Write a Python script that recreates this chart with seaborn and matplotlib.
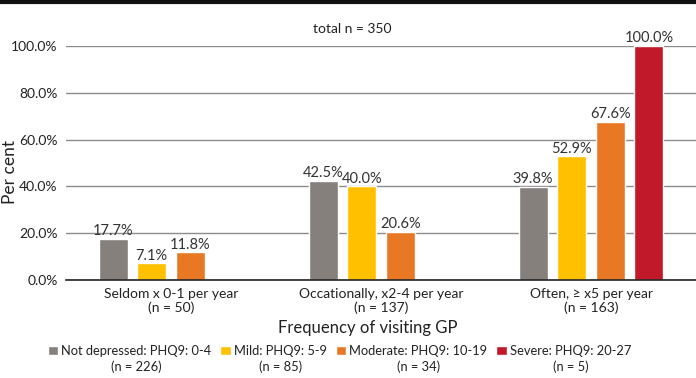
import matplotlib
matplotlib.use("Agg")
import matplotlib.pyplot as plt
import seaborn as sns
import pandas as pd
from matplotlib.lines import Line2D
from matplotlib.ticker import FuncFormatter

# Data (per cent of each frequency group)
categories = ["Seldom x 0-1 per year\n(n = 50)",
              "Occationally, x2-4 per year\n(n = 137)",
              "Often, \u2265 x5 per year\n(n = 163)"]
groups = ["Not depressed: PHQ9: 0-4",
          "Mild: PHQ9: 5-9",
          "Moderate: PHQ9: 10-19",
          "Severe: PHQ9: 20-27"]
group_n = ["(n = 226)", "(n = 85)", "(n = 34)", "(n = 5)"]
not_depressed = [17.7, 42.5, 39.8]
mild = [7.1, 40.0, 52.9]
moderate = [11.8, 20.6, 67.6]
severe = [0.0, 0.0, 100.0]
y_ticks = [0, 20, 40, 60, 80, 100]
total_label = "total n = 350"

colors = ["#86807c", "#ffc000", "#e97825", "#c1182a"]
text_col = "#222222"

# Long table, empty (zero) bars left out like in the original
rows = []
for g, vals in zip(groups, [not_depressed, mild, moderate, severe]):
    for c, v in zip(categories, vals):
        if v > 0:
            rows.append({"category": c, "group": g, "value": v})
df = pd.DataFrame(rows)

sns.set_theme(style="white")
plt.rcParams["font.family"] = ["Lato", "DejaVu Sans"]

fig = plt.figure(figsize=(6.96, 3.78), dpi=100)
ax = fig.add_axes([66 / 696, 1 - 280 / 378, 630 / 696, 234 / 378])

sns.barplot(data=df, x="category", y="value", hue="group",
            order=categories, hue_order=groups, palette=colors,
            width=0.735, gap=0.25, dodge=True, saturation=1,
            ax=ax)

# Value labels on top of bars
for cont in ax.containers:
    ax.bar_label(cont, fmt="%.1f%%", padding=0.5, fontsize=10.5, color="#333333")

# Axes styling
ax.set_xlim(-0.5, 2.5)
ax.set_ylim(0, 100)
ax.set_yticks(y_ticks)
ax.yaxis.set_major_formatter(FuncFormatter(lambda v, p: f"{v:.1f}%"))
ax.tick_params(axis="both", length=0, colors=text_col)
ax.tick_params(axis="y", labelsize=10, pad=6)
ax.tick_params(axis="x", labelsize=10, pad=6)
for t in ax.get_xticklabels():
    t.set_linespacing(1.1)
ax.yaxis.grid(True, color="#8c8c8c", linewidth=1)
ax.set_axisbelow(True)
for s in ["top", "right", "left"]:
    ax.spines[s].set_visible(False)
ax.spines["bottom"].set_color(text_col)
ax.spines["bottom"].set_linewidth(1.2)

ax.set_ylabel("Per cent", fontsize=12.5, color=text_col)
ax.yaxis.set_label_coords(-0.076, 0.46)
ax.set_xlabel("Frequency of visiting GP", fontsize=12, color=text_col)
ax.xaxis.set_label_coords((368 - 66) / 630, -0.17)

ax.text(0.455, 1.045, total_label, transform=ax.transAxes, ha="center",
        va="bottom", fontsize=10, color=text_col)

# Legend below the axis, with the group sizes on a second line
ax.legend_.remove()
handles, labels = ax.get_legend_handles_labels()
leg = fig.legend(handles, labels, loc="center left",
                 bbox_to_anchor=(36 / 696, 1 - 351 / 378), ncol=4,
                 frameon=False, fontsize=9.3, handlelength=0.8,
                 handleheight=0.8, handletextpad=0.25, columnspacing=0.7)
for t in leg.get_texts():
    t.set_color(text_col)

fig.canvas.draw()
inv = fig.transFigure.inverted()
for t, n in zip(leg.get_texts(), group_n):
    bb = t.get_window_extent()
    x0, y0 = inv.transform((bb.x0 + bb.width / 2, bb.y0))
    fig.text(x0, y0 - 0.008, n, ha="center", va="top", fontsize=9.3,
             color=text_col)

# Thick rule across the top of the figure
fig.add_artist(Line2D([0, 1], [0.996, 0.996], color="#111111", linewidth=3,
                      transform=fig.transFigure))

fig.savefig("out.png", dpi=100)
